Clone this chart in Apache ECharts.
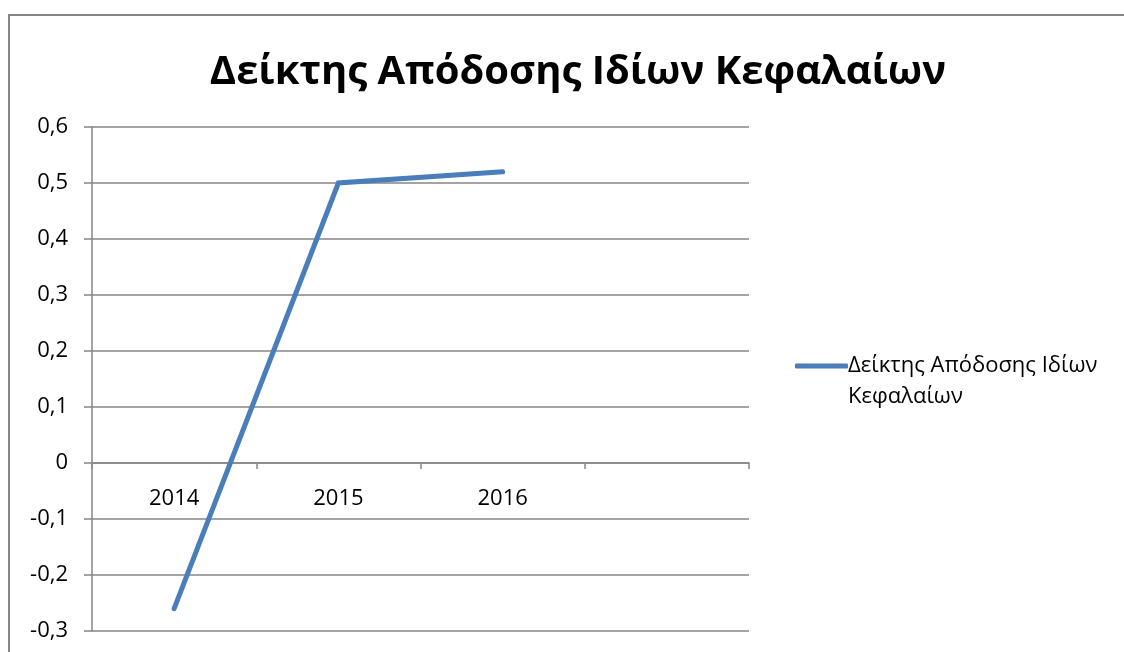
<!DOCTYPE html>
<html>
<head>
<meta charset="utf-8">
<script src="https://cdn.jsdelivr.net/npm/echarts@6/dist/echarts.min.js"></script>
<style>
  html, body { margin: 0; padding: 0; background: #fff; }
  #main { width: 1124px; height: 652px; }
</style>
</head>
<body>
<div id="main"></div>
<script>
// data
const years = ['2014', '2015', '2016', ''];
const roeValues = [-0.26, 0.50, 0.52, null];
const seriesName = 'Δείκτης Απόδοσης Ιδίων Κεφαλαίων';
const legendLine1 = 'Δείκτης Απόδοσης Ιδίων';
const legendLine2 = 'Κεφαλαίων';
const titleText = 'Δείκτης Απόδοσης Ιδίων Κεφαλαίων';

const fontFam = '"Open Sans", "Noto Sans", sans-serif';
const gray = '#868686';

const myChart = echarts.init(document.getElementById('main'));

const option = {
    animation: false,
    backgroundColor: '#fff',
    title: {
        text: titleText,
        left: 573,
        textAlign: 'center',
        top: 48,
        textStyle: {
            fontFamily: fontFam,
            fontSize: 40,
            fontWeight: 'bold',
            color: '#000'
        }
    },
    graphic: [{
        // outer chart frame (runs past the right and bottom edges)
        type: 'rect',
        shape: { x: 9, y: 15, width: 1200, height: 700 },
        style: { fill: 'none', stroke: gray, lineWidth: 2 },
        silent: true
    }, {
        // second line of the wrapped legend label
        type: 'text',
        left: 848,
        top: 386,
        style: {
            text: legendLine2,
            fontFamily: fontFam,
            fontSize: 22,
            fill: '#000'
        }
    }],
    legend: {
        left: 790,
        top: 346,
        itemWidth: 53,
        itemHeight: 5,
        data: [{ name: seriesName, icon: 'roundRect' }],
        formatter: () => legendLine1,
        textStyle: {
            fontFamily: fontFam,
            fontSize: 22,
            lineHeight: 30,
            color: '#000',
            padding: [0, 0, 0, -5]
        }
    },
    grid: {
        left: 92,
        right: 1124 - 749,
        top: 127,
        bottom: 652 - 631,
        outerBoundsMode: 'none',
        containLabel: false
    },
    xAxis: {
        type: 'category',
        data: years,
        boundaryGap: true,
        position: 'bottom',
        // the category axis crosses at value 0
        offset: -(631 - 463),
        axisLine: { onZero: false, lineStyle: { color: gray, width: 1.5 } },
        axisTick: { show: true, alignWithLabel: false, length: 6, lineStyle: { color: gray, width: 1.5 } },
        axisLabel: {
            margin: 25,
            fontFamily: fontFam,
            fontSize: 22,
            color: '#000'
        },
        splitLine: { show: false }
    },
    yAxis: {
        type: 'value',
        min: -0.3,
        max: 0.6,
        interval: 0.1,
        axisLine: { show: true, lineStyle: { color: gray, width: 1.5 } },
        axisTick: { show: true, inside: false, length: 8, lineStyle: { color: gray, width: 1.5 } },
        axisLabel: {
            margin: 24,
            fontFamily: fontFam,
            fontSize: 22,
            color: '#000',
            formatter: (v) => {
                const r = Math.round(v * 10) / 10;
                return r === 0 ? '0' : r.toFixed(1).replace('.', ',');
            }
        },
        splitLine: { show: true, lineStyle: { color: gray, width: 1.5 } }
    },
    series: [{
        name: seriesName,
        type: 'line',
        data: roeValues,
        symbol: 'none',
        lineStyle: { color: '#4a7ebb', width: 5, cap: 'round', join: 'miter' },
        itemStyle: { color: '#4a7ebb' },
        connectNulls: false
    }]
};

myChart.setOption(option, true);
</script>
</body>
</html>
